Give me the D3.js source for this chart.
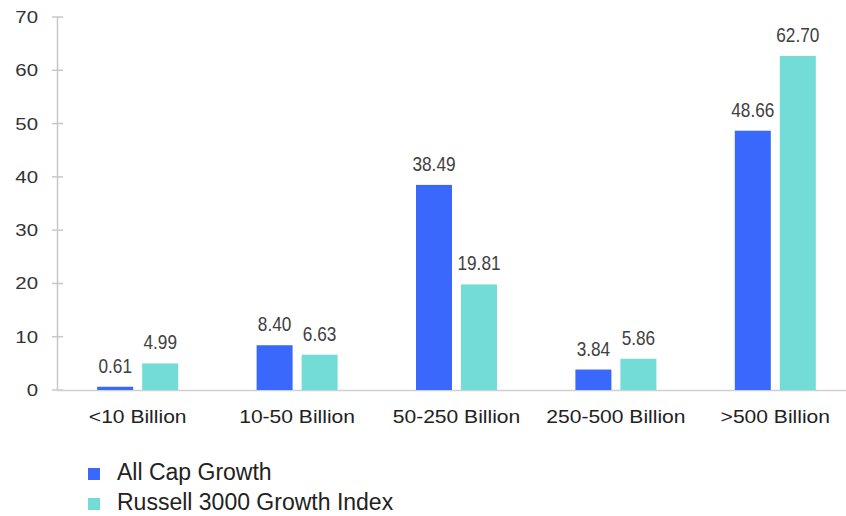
<!DOCTYPE html>
<html>
<head>
<meta charset="utf-8">
<script src="https://cdn.jsdelivr.net/npm/d3@7/dist/d3.min.js"></script>
<style>
  body { margin: 0; background: #fff; }
  text { font-family: "Liberation Sans", Arial, sans-serif; }
</style>
</head>
<body>
<div id="chart"></div>
<script>
var categories = ["<10 Billion", "10-50 Billion", "50-250 Billion", "250-500 Billion", ">500 Billion"];
var seriesNames = ["All Cap Growth", "Russell 3000 Growth Index"];
var allCap = [0.61, 8.40, 38.49, 3.84, 48.66];
var russell = [4.99, 6.63, 19.81, 5.86, 62.70];
var yTicks = [0, 10, 20, 30, 40, 50, 60, 70];

var colors = ["#3a67fc", "#73dcd6"];

var width = 846, height = 516;
var svg = d3.select("#chart").append("svg")
    .attr("width", width)
    .attr("height", height);

var x = d3.scaleBand()
    .domain(categories)
    .range([58, 855]);

var y = d3.scaleLinear()
    .domain([0, 70])
    .range([390, 17]);

var rows = categories.map(function(c, i){
    return {cat: c, vals: [allCap[i], russell[i]]};
});

// y axis
svg.append("line")
   .attr("x1", 57.5).attr("x2", 57.5)
   .attr("y1", y(70)).attr("y2", y(0))
   .attr("stroke", "#c8c8c8").attr("stroke-width", 1.5);

svg.selectAll(".ytick")
   .data(yTicks)
   .enter().append("line")
   .attr("x1", 52).attr("x2", 63)
   .attr("y1", d => y(d)).attr("y2", d => y(d))
   .attr("stroke", "#c8c8c8").attr("stroke-width", 1.5);

svg.selectAll(".ylab")
   .data(yTicks)
   .enter().append("text")
   .attr("transform", d => "translate(38," + (y(d) + 6) + ") scale(1.2,1)")
   .attr("text-anchor", "end")
   .attr("fill", "#333")
   .style("font-size", "17px")
   .text(d => d);

// baseline
svg.append("line")
   .attr("x1", 57).attr("x2", 846)
   .attr("y1", y(0) + 0.5).attr("y2", y(0) + 0.5)
   .attr("stroke", "#d0d0d0").attr("stroke-width", 1.5);

var barW = 36, gap = 9;

var groups = svg.selectAll(".grp")
    .data(rows)
    .enter().append("g")
    .attr("transform", d => "translate(" + (x(d.cat) + x.bandwidth() / 2) + ",0)");

groups.selectAll("rect")
    .data(d => d.vals)
    .enter().append("rect")
    .attr("x", (d, i) => i == 0 ? -(barW + gap / 2) : gap / 2)
    .attr("y", d => y(d))
    .attr("width", barW)
    .attr("height", d => y(0) - y(d))
    .attr("fill", (d, i) => colors[i]);

// value labels (tall, narrow look)
groups.selectAll(".vlab")
    .data(d => d.vals)
    .enter().append("text")
    .attr("transform", function(d, i){
        var cx = i == 0 ? -(barW / 2 + gap / 2) : barW / 2 + gap / 2;
        return "translate(" + cx + "," + (y(d) - 14) + ") scale(0.82,1)";
    })
    .attr("text-anchor", "middle")
    .attr("fill", "#404040")
    .style("font-size", "21px")
    .text(d => d.toFixed(2));

// category labels
svg.selectAll(".xlab")
   .data(categories)
   .enter().append("text")
   .attr("transform", d => "translate(" + (x(d) + x.bandwidth() / 2) + ",423) scale(1.17,1)")
   .attr("text-anchor", "middle")
   .attr("fill", "#222")
   .style("font-size", "18px")
   .text(d => d);

// legend
var legend = svg.selectAll(".leg")
    .data(seriesNames)
    .enter().append("g")
    .attr("transform", (d, i) => "translate(88," + (480 + i * 30) + ")");

legend.append("rect")
    .attr("y", -12)
    .attr("width", 12).attr("height", 12)
    .attr("fill", (d, i) => colors[i]);

legend.append("text")
    .attr("x", 29)
    .attr("y", 0)
    .attr("fill", "#222")
    .style("font-size", "23px")
    .text(d => d);
</script>
</body>
</html>
